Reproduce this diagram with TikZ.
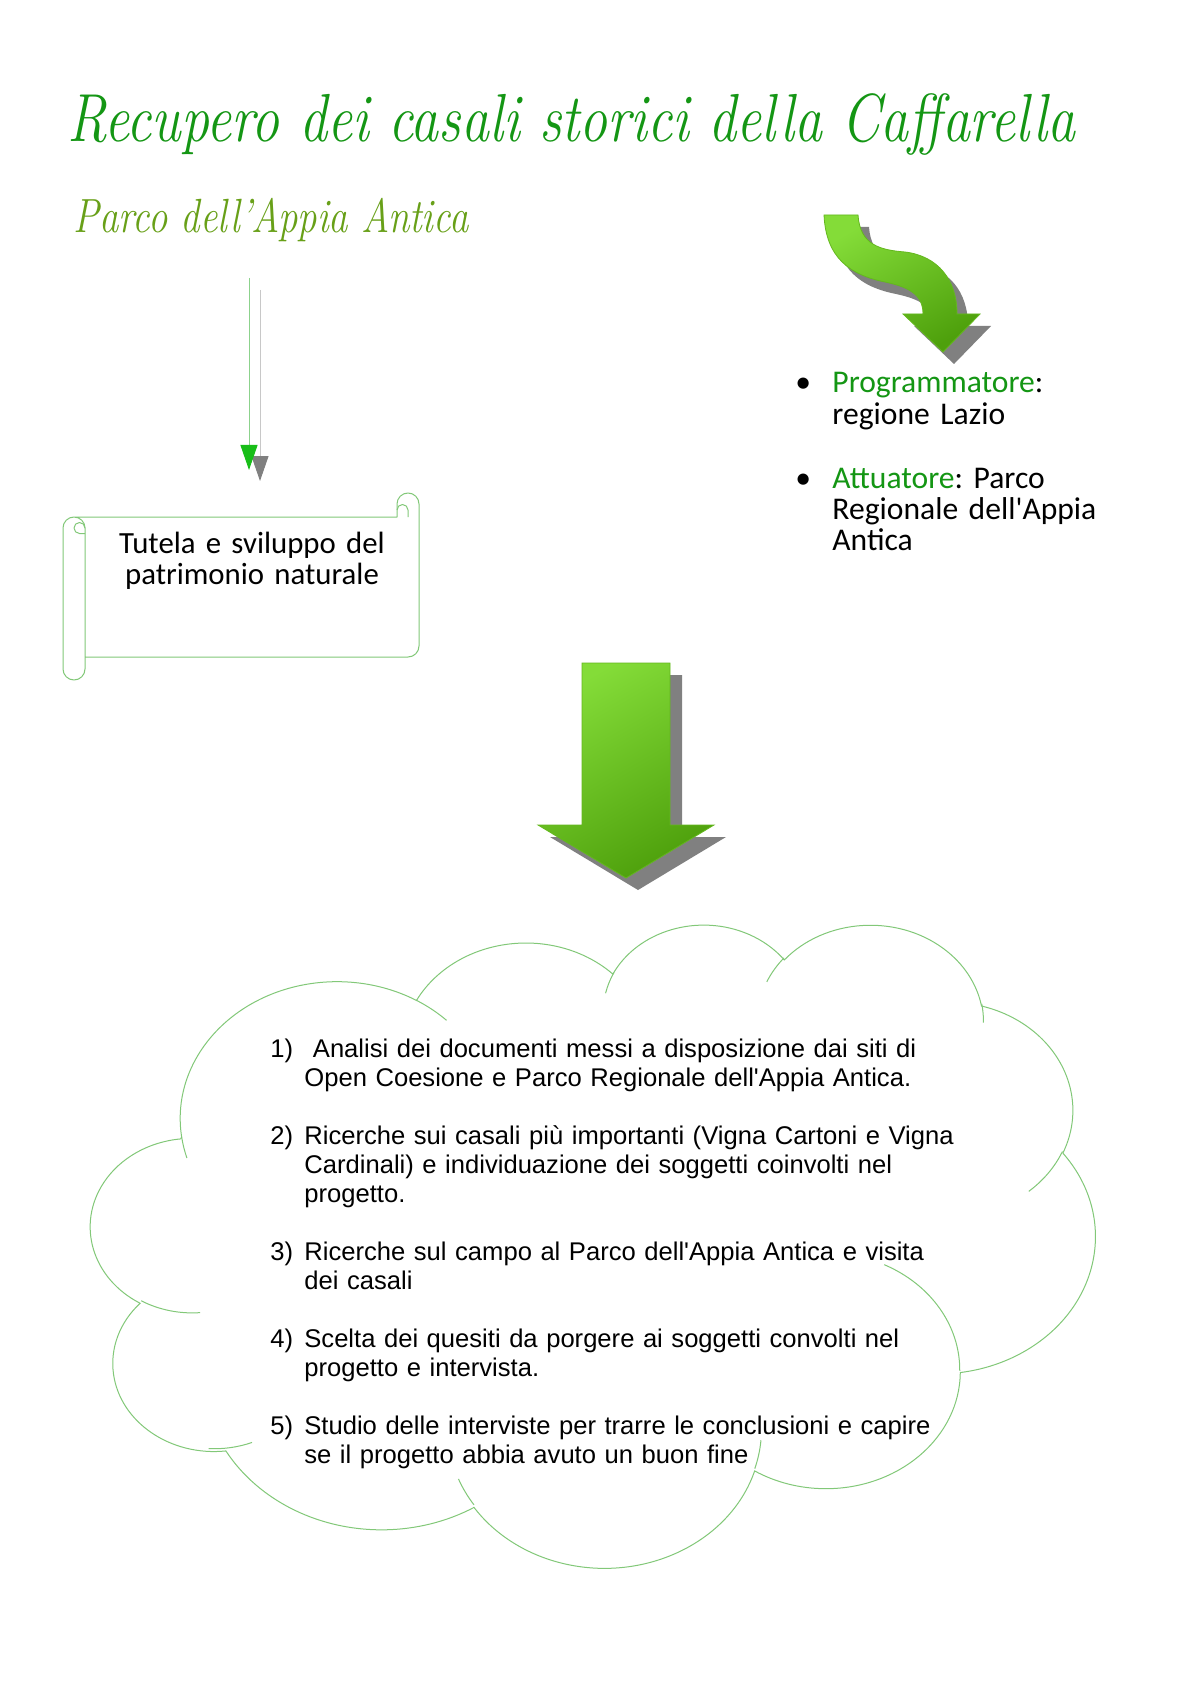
\documentclass[tikz,border=0pt]{standalone}
\usepackage{fontspec}
\usepackage{graphicx}
\usepackage{tikz}
\usetikzlibrary{arrows.meta, positioning, calc}
\setmainfont{Latin Modern Roman}
\newfontfamily\calibri{Carlito}
\newfontfamily\arial{Liberation Sans}
\frenchspacing

\definecolor{titlegreen}{RGB}{20,150,20}
\definecolor{subgreen}{RGB}{104,160,24}
\definecolor{outlinegreen}{RGB}{130,200,120}
\definecolor{arrowlight}{RGB}{132,220,56}
\definecolor{arrowdark}{RGB}{78,160,12}
\definecolor{shadowgray}{RGB}{128,128,128}
\definecolor{headgreen}{RGB}{24,190,24}
\definecolor{linkgreen}{RGB}{140,210,140}
\definecolor{linkgray}{RGB}{200,200,200}

\makeatletter
% OOXML arcs give visual angles, TikZ wants the ellipse parameter
\pgfmathdeclarefunction{vang}{3}{%
  \begingroup
  \pgfmathparse{atan2(#1*sin(#3),#2*cos(#3))}%
  \pgfmath@smuggleone\pgfmathresult
  \endgroup}
\makeatother

\tikzset{
  titletext/.style={inner sep=0pt, text=titlegreen, font=\fontsize{34}{40}\selectfont\itshape},
  subtitletext/.style={inner sep=0pt, text=subgreen, font=\fontsize{24}{28}\selectfont\itshape},
  scrolltext/.style={inner sep=0pt, text width=170pt, align=center, font=\calibri\fontsize{15.4}{15.6}\selectfont},
  roletext/.style={inner sep=0pt, text width=170pt, font=\calibri\fontsize{15.8}{15.6}\selectfont},
  listtext/.style={inner sep=0pt, text width=360pt, font=\arial\fontsize{12.8}{14.5}\selectfont},
  scrollline/.style={draw=outlinegreen, line width=0.5pt, line join=round},
  cloudline/.style={draw=outlinegreen, line width=0.5pt},
  arrowbody/.style={top color=arrowlight, bottom color=arrowdark, shading angle=30,
    draw=arrowdark!60!arrowlight, line width=0.4pt},
  link/.style={draw=linkgreen, line width=0.5pt,
    -{Triangle[width=8.5pt, length=12.5pt, color=headgreen]}},
  linkshadow/.style={draw=linkgray, line width=0.5pt,
    -{Triangle[width=8.5pt, length=12.5pt, color=shadowgray]}},
  cloudarc/.style n args={4}{x radius=#1, y radius=#2,
    start angle={vang(#1,#2,#3)},
    delta angle={mod(vang(#1,#2,#3+#4)-vang(#1,#2,#3)+720,360)}},
}

\newcommand{\downarrowshape}{(582,663) -- (670,663) -- (670,825) -- (714,825) -- (626,878) -- (538,825) -- (582,825) -- cycle}
\newcommand{\bendarrowshape}{(824,215) -- (858,215) .. controls (860,245) and (880,250) .. (905,252)
  .. controls (938,256) and (957,280) .. (957,314) -- (980,314) -- (943,352) -- (903,314) -- (923,314)
  .. controls (923,294) and (908,287) .. (885,282) .. controls (850,275) and (826,258) .. (824,215) -- cycle}
\newcommand{\steplabel}[1]{\hangindent=17pt\makebox[17pt][l]{#1)}}
\newcommand{\rolelabel}{\hangindent=18.5pt\makebox[18.5pt][l]{\textbullet}}

\begin{document}
\begin{tikzpicture}[x=0.5pt, y=-0.5pt]
\fill[white] (0,0) rectangle (1190,1684);
\useasboundingbox (0,0) rectangle (1190,1684);

% headings
\node[titletext, anchor=base west] (title) at (67,142)
  {\resizebox{504pt}{\height}{Recupero dei casali storici della Caffarella}};
\node[subtitletext, anchor=base west] (subtitle) at (73,233)
  {\resizebox{197.5pt}{\height}{Parco dell'Appia Antica}};

% thin arrow with its shadow
\coordinate (linktop) at (249,278);
\coordinate (linkend) at (249,470);
\draw[linkshadow] ($(linktop)+(11,12)$) -- ($(linkend)+(11,11)$);
\draw[link] (linktop) -- (linkend);

% scroll
\draw[scrollline] (85,657) -- (408,657) arc[start angle=90, end angle=0, radius=11]
  -- (419,504) arc[start angle=0, end angle=-180, radius=11] -- (397,517) -- (74,517)
  arc[start angle=-90, end angle=-180, radius=11] -- (63,669)
  arc[start angle=180, end angle=0, radius=11] -- (85,528)
  arc[start angle=0, end angle=-90, radius=11];
\draw[scrollline] (85,528) arc[start angle=0, end angle=-270, radius=5.5] -- (85,533.5);
\draw[scrollline] (397,510) arc[start angle=180, end angle=360, radius=5.5] -- (408,517);
\node[scrolltext, anchor=base] (tutela) at (252,553) {Tutela e sviluppo del\\patrimonio naturale};

% bent arrow
\fill[shadowgray, shift={(11,12)}] \bendarrowshape;
\shadedraw[arrowbody] \bendarrowshape;

\node[roletext, anchor=base west] (prog) at (795,393)
  {\rolelabel{\color{titlegreen}Programmatore}:\newline regione Lazio\par};
\node[roletext, anchor=base west] (attu) at (795,488)
  {\rolelabel{\color{titlegreen}Attuatore}: Parco\newline Regionale dell'Appia\newline Antica\par};

% big arrow
\fill[shadowgray, shift={(12,12)}] \downarrowshape;
\shadedraw[arrowbody] \downarrowshape;

% cloud
\begin{scope}[shift={(91,923)}, x=1.16204pt, y=-0.7442pt]
\draw[cloudline] (39.00,143.70)
  arc[cloudarc={67.53}{91.90}{-190.4875}{123.7805}]
  arc[cloudarc={53.33}{72.67}{-144.1024}{89.9452}]
  arc[cloudarc={43.65}{59.45}{-145.8079}{99.7230}]
  arc[cloudarc={48.57}{65.95}{-130.9861}{117.2417}]
  arc[cloudarc={53.33}{72.73}{-78.7089}{109.0269}]
  arc[cloudarc={67.75}{92.20}{-46.2673}{130.2690}]
  arc[cloudarc={57.85}{78.67}{0.6250}{114.0333}]
  arc[cloudarc={67.52}{92.15}{22.4516}{115.1726}]
  arc[cloudarc={77.20}{105.43}{66.2426}{75.7110}]
  arc[cloudarc={43.60}{59.18}{-274.9421}{146.7356}]
  arc[cloudarc={43.45}{59.45}{-246.8285}{152.5189}] -- cycle;
\draw[cloudline]
  (46.93,261.77) arc[cloudarc={43.45}{59.45}{86.7420}{26.4295}]
  (69.28,348.99) arc[cloudarc={43.60}{59.18}{73.6105}{18.7715}]
  (164.78,390.90) arc[cloudarc={67.52}{92.15}{137.6242}{14.0811}]
  (288.27,347.51) arc[cloudarc={67.52}{92.15}{6.4533}{15.9984}]
  (341.29,229.54) arc[cloudarc={57.85}{78.67}{-70.2924}{70.9174}]
  (417.98,153.54) arc[cloudarc={53.33}{72.73}{30.3180}{27.7515}]
  (383.24,54.26) arc[cloudarc={48.57}{65.95}{-13.7443}{14.8589}]
  (290.78,39.52) arc[cloudarc={48.57}{65.95}{-149.1815}{18.1954}]
  (221.41,47.20) arc[cloudarc={43.65}{59.45}{-163.4943}{17.6864}]
  (140.00,51.92) arc[cloudarc={67.53}{91.90}{-66.7070}{12.3194}]
  (41.27,157.89) arc[cloudarc={67.53}{91.90}{157.6544}{11.8582}];
\end{scope}

\node[listtext, anchor=base west] (steps) at (270,1057) {\setlength{\parskip}{14.5pt}%
  \steplabel{1}\ Analisi dei documenti messi a disposizione dai siti di\newline
  Open Coesione e Parco Regionale dell'Appia Antica.\par
  \steplabel{2}Ricerche sui casali più importanti (Vigna Cartoni e Vigna\newline
  Cardinali) e individuazione dei soggetti coinvolti nel\newline
  progetto.\par
  \steplabel{3}Ricerche sul campo al Parco dell'Appia Antica e visita\newline
  dei casali\par
  \steplabel{4}Scelta dei quesiti da porgere ai soggetti convolti nel\newline
  progetto e intervista.\par
  \steplabel{5}Studio delle interviste per trarre le conclusioni e capire\newline
  se il progetto abbia avuto un buon fine\par};
\end{tikzpicture}
\end{document}
